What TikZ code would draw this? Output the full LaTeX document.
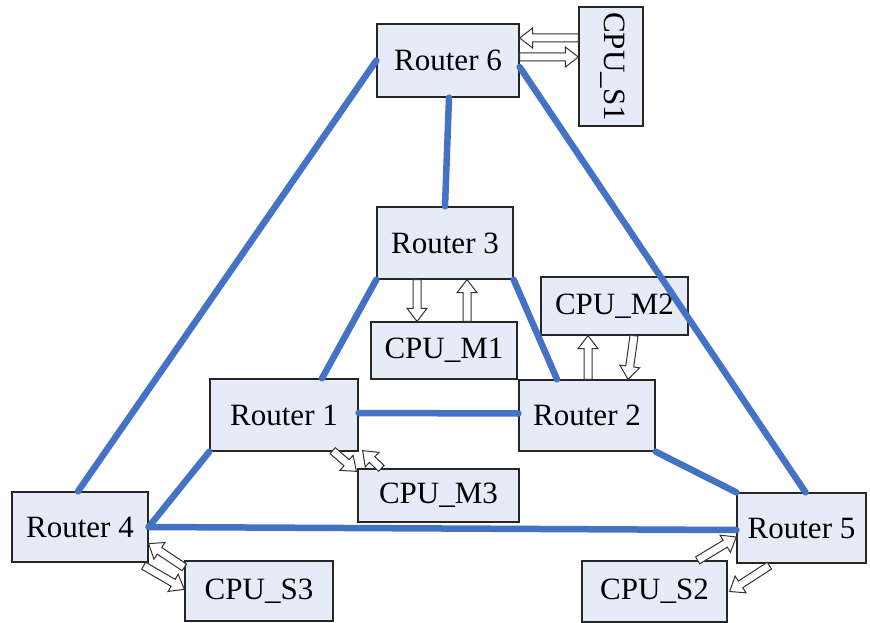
\documentclass[tikz,border=0pt]{standalone}
\usepackage{fontspec}
\setmainfont{Liberation Serif}
\usetikzlibrary{calc}

\definecolor{boxfill}{HTML}{E6ECF7}
\definecolor{linkblue}{HTML}{4472C4}
\tikzset{
  lbl/.style={font=\fontsize{31}{33}\selectfont},
  box/.style={lbl, draw=black!85, line width=1.3pt, fill=boxfill, inner sep=0pt},
  link/.style={draw=linkblue, line width=6.5pt, line cap=round},
  hollowarr/.style={draw=black!80, line width=1pt, fill=white, line join=miter}
}

% open block arrow from #1 to #2 (shaft half-width 4, head half-width 10, head length 13)
\newcommand\blockarrow[2]{%
  \coordinate (ba) at #1;
  \coordinate (bb) at #2;
  \coordinate (bh) at ($(bb)!13pt!(ba)$);
  \draw[hollowarr] ($(ba)!4pt!90:(bb)$) -- ($(bh)!4pt!-90:(ba)$)
     -- ($(bh)!10pt!-90:(ba)$) -- (bb) -- ($(bh)!10pt!90:(ba)$)
     -- ($(bh)!4pt!90:(ba)$) -- ($(ba)!4pt!-90:(bb)$) -- cycle;
}

\begin{document}
\begin{tikzpicture}[x=1pt, y=-1pt]
\useasboundingbox (0,0) rectangle (870,623);

% routers
\node[box, minimum width=142pt, minimum height=73pt] (r6) at (448,60.5) {Router 6};
\node[box, minimum width=136pt, minimum height=72pt] (r3) at (445,243) {Router 3};
\node[box, minimum width=148pt, minimum height=72pt] (r1) at (284,415) {Router 1};
\node[box, minimum width=136pt, minimum height=71pt] (r2) at (587,415.5) {Router 2};
\node[box, minimum width=136pt, minimum height=70pt] (r4) at (80,527) {Router 4};
\node[box, minimum width=129pt, minimum height=70pt] (r5) at (801.5,528) {Router 5};

% processors
\node[box, minimum width=64pt, minimum height=119pt] (s1) at (611,66.5) {};
\node[lbl, rotate=-90, inner sep=0pt, anchor=center] (s1t) at (613,66.5) {CPU\_S1};
\node[box, minimum width=146pt, minimum height=57pt] (m1) at (444,350.5) {CPU\_M1};
\node[box, minimum width=147pt, minimum height=58pt] (m2) at (614.5,306) {CPU\_M2};
\node[box, minimum width=161pt, minimum height=53pt] (m3) at (438.5,495.5) {CPU\_M3};
\node[box, minimum width=148pt, minimum height=60pt] (s3) at (259,591) {CPU\_S3};
\node[box, minimum width=145pt, minimum height=61pt] (s2) at (654.5,591.5) {CPU\_S2};

% network links
\draw[link] (r6.west) -- ($(r4.north)+(-2,0)$);
\draw[link] ($(r6.south)+(1,0)$) -- (r3.north);
\draw[link] ($(r6.east)+(0,6.5)$) -- ($(r5.north)+(4,0)$);
\draw[link] (r3.south west) -- ($(r1.north)+(38,0)$);
\draw[link] (r3.south east) -- ($(r2.north)+(-30,0)$);
\draw[link] ($(r1.east)+(0,-2)$) -- ($(r2.west)+(0,-2)$);
\draw[link] (r1.south west) -- (r4.east);
\draw[link] (r4.east) -- ($(r5.west)+(0,2)$);
\draw[link] (r2.south east) -- (r5.north west);

% processor traffic
\blockarrow{($(s1.west)+(0,-28.5)$)}{($(r6.east)+(0,-22.5)$)}
\blockarrow{($(r6.east)+(0,-3.5)$)}{($(s1.west)+(0,-9.5)$)}
\blockarrow{($(r3.south)+(-28,0)$)}{($(m1.north)+(-27,0)$)}
\blockarrow{($(m1.north)+(23,0)$)}{($(r3.south)+(22,0)$)}
\blockarrow{($(r2.north)+(1,0)$)}{($(m2.south)+(-26.5,0)$)}
\blockarrow{($(m2.south)+(19.5,0)$)}{($(r2.north)+(41,0)$)}
\blockarrow{($(r1.south east)+(-26,-1)$)}{($(m3.north west)+(-1,3)$)}
\blockarrow{($(m3.north west)+(24,0)$)}{($(r1.south east)+(4,-1)$)}
\blockarrow{($(s3.north west)+(0,7)$)}{($(r4.south east)+(0,-19)$)}
\blockarrow{($(r4.south east)+(-5,3)$)}{($(s3.north west)+(0,29)$)}
\blockarrow{($(s2.north east)+(-30,0)$)}{($(r5.west)+(0,9)$)}
\blockarrow{($(r5.south west)+(33,2)$)}{($(s2.east)+(2,0)$)}
\end{tikzpicture}
\end{document}
